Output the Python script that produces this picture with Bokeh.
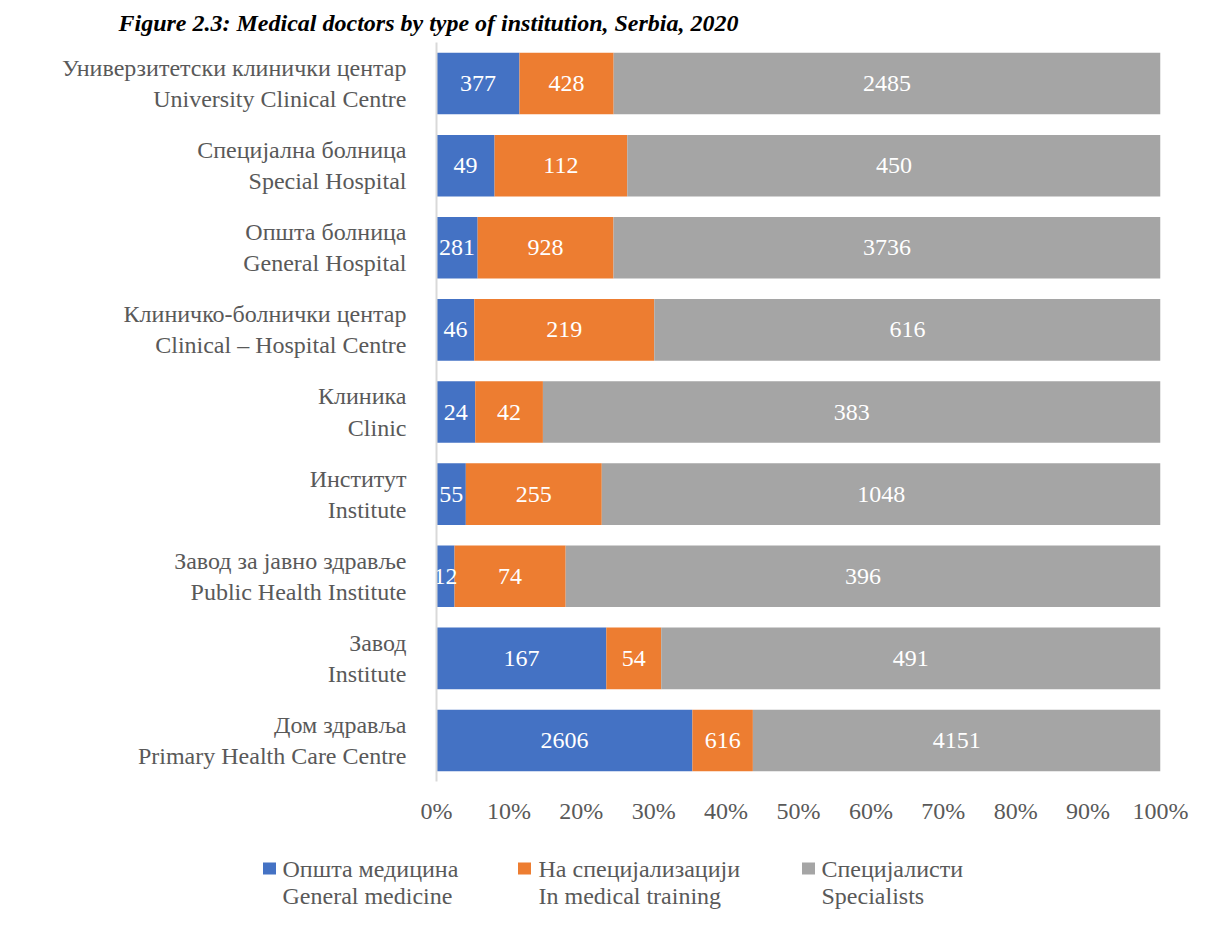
from bokeh.plotting import figure
from bokeh.layouts import column
from bokeh.models import (ColumnDataSource, FactorRange, Range1d, NumeralTickFormatter,
                          FixedTicker, Title)
from bokeh.core.properties import value
from bokeh.embed import file_html
from bokeh.resources import INLINE

# ---------------- data (top to bottom as in the chart) ----------------
cat_sr = ["Универзитетски клинички центар", "Специјална болница", "Општа болница",
          "Клиничко-болнички центар", "Клиника", "Институт",
          "Завод за јавно здравље", "Завод", "Дом здравља"]
cat_en = ["University Clinical Centre", "Special Hospital", "General Hospital",
          "Clinical – Hospital Centre", "Clinic", "Institute",
          "Public Health Institute", "Institute", "Primary Health Care Centre"]
general = [377, 49, 281, 46, 24, 55, 12, 167, 2606]
training = [428, 112, 928, 219, 42, 255, 74, 54, 616]
specialists = [2485, 450, 3736, 616, 383, 1048, 396, 491, 4151]
series_sr = ["Општа медицина", "На специјализацији", "Специјалисти"]
series_en = ["General medicine", "In medical training", "Specialists"]
colors = ["#4472C4", "#ED7D31", "#A5A5A5"]
x_ticks = [0, 0.1, 0.2, 0.3, 0.4, 0.5, 0.6, 0.7, 0.8, 0.9, 1.0]
title_text = "Figure 2.3: Medical doctors by type of institution, Serbia, 2020"

FONT = "Liberation Serif"
GREY = "#595959"

# ---------------- derived table ----------------
cats = [f"{a}\n{b}" for a, b in zip(cat_sr, cat_en)]
tot = [a + b + c for a, b, c in zip(general, training, specialists)]
g = [a / t for a, t in zip(general, tot)]
tr = [b / t for b, t in zip(training, tot)]
sp = [c / t for c, t in zip(specialists, tot)]
src = ColumnDataSource(dict(cat=cats, g=g, tr=tr, sp=sp))

lab_x, lab_y, lab_t = [], [], []
for i, c in enumerate(cats):
    vals = [general[i], training[i], specialists[i]]
    fr = [g[i], tr[i], sp[i]]
    start = 0
    for v, f in zip(vals, fr):
        lab_x.append(start + f / 2)
        lab_y.append(c)
        lab_t.append(str(v))
        start += f
lab_src = ColumnDataSource(dict(x=lab_x, y=lab_y, t=lab_t))

# ---------------- main chart ----------------
p = figure(width=1200, height=850, output_backend="svg", toolbar_location=None,
           y_range=FactorRange(*list(reversed(cats))), x_range=Range1d(0, 1),
           min_border_left=436, min_border_right=40, min_border_top=42, min_border_bottom=69)
p.frame_align = False
p.outline_line_color = None
p.xgrid.grid_line_color = None
p.ygrid.grid_line_color = None
p.background_fill_color = "white"
p.border_fill_color = "white"

rs = p.hbar_stack(["g", "tr", "sp"], y="cat", height=0.75, color=colors,
                  line_color=None, source=src)

p.text(x="x", y="y", text="t", source=lab_src, text_align="center", text_baseline="middle",
       text_color="white", text_font=value(FONT), text_font_size="24px")

p.xaxis.ticker = FixedTicker(ticks=x_ticks)
p.xaxis.formatter = NumeralTickFormatter(format="0%")
p.xaxis.axis_line_color = None
p.xaxis.major_tick_line_color = None
p.xaxis.minor_tick_line_color = None
p.xaxis.major_label_text_font = FONT
p.xaxis.major_label_text_font_size = "24px"
p.xaxis.major_label_text_color = GREY
p.xaxis.major_label_standoff = 10

p.yaxis.axis_line_color = "#D9D9D9"
p.yaxis.axis_line_width = 2
p.yaxis.major_tick_line_color = None
p.yaxis.minor_tick_line_color = None
p.yaxis.major_label_text_font = FONT
p.yaxis.major_label_text_font_size = "24px"
p.yaxis.major_label_text_color = GREY
p.yaxis.major_label_standoff = 24

t = Title(text=title_text, align="left", offset=-318, vertical_align="top",
          text_font=FONT, text_font_size="24px", text_font_style="bold italic",
          text_color="black")
p.add_layout(t, "above")

# ---------------- legend strip (pixel coordinates) ----------------
p2 = figure(width=1200, height=71, output_backend="svg", toolbar_location=None,
            x_range=Range1d(0, 1200), y_range=Range1d(71, 0),
            x_axis_location=None, y_axis_location=None,
            min_border_left=0, min_border_right=0, min_border_top=0, min_border_bottom=0)
p2.frame_align = False
p2.outline_line_color = None
p2.xgrid.grid_line_color = None
p2.ygrid.grid_line_color = None
p2.background_fill_color = "white"
p2.border_fill_color = "white"

leg_sq_x = [269, 524, 808]
leg_tx_x = [282, 538, 821]
leg_src = ColumnDataSource(dict(sx=leg_sq_x, tx=leg_tx_x, c=colors,
                                l1=series_sr, l2=series_en))
p2.rect(x="sx", y=18, width=13, height=12, width_units="screen", height_units="screen",
        fill_color="c", line_color=None, source=leg_src)
p2.text(x="tx", y=18, text="l1", source=leg_src, text_align="left", text_baseline="middle",
        text_color=GREY, text_font=value(FONT), text_font_size="24px")
p2.text(x="tx", y=45, text="l2", source=leg_src, text_align="left", text_baseline="middle",
        text_color=GREY, text_font=value(FONT), text_font_size="24px")

layout = column(p, p2, spacing=0)
open("out.html", "w").write(file_html(layout, INLINE))
